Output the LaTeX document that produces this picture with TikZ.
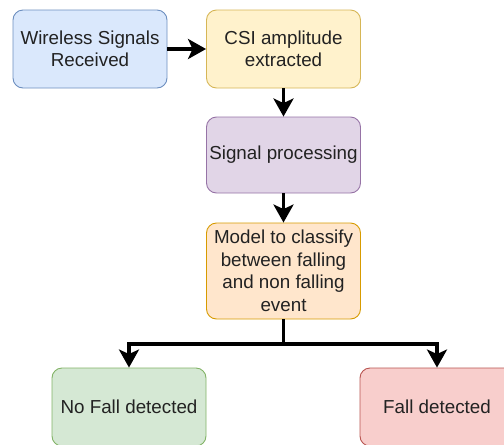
\documentclass[tikz,border=0pt]{standalone}
\usepackage{fontspec}
\setmainfont{Liberation Sans}
\usetikzlibrary{arrows.meta}
\definecolor{bluefill}{HTML}{DAE8FC}\definecolor{bluedraw}{HTML}{6C8EBF}
\definecolor{yelfill}{HTML}{FFF2CC}\definecolor{yeldraw}{HTML}{D6B656}
\definecolor{purfill}{HTML}{E1D5E7}\definecolor{purdraw}{HTML}{9673A6}
\definecolor{orafill}{HTML}{FFE6CC}\definecolor{oradraw}{HTML}{D79B00}
\definecolor{grefill}{HTML}{D5E8D4}\definecolor{gredraw}{HTML}{82B366}
\definecolor{redfill}{HTML}{F8CECC}\definecolor{reddraw}{HTML}{B85450}
\definecolor{txt}{HTML}{222222}
\begin{document}
\begin{tikzpicture}[x=1pt,y=-1pt,
  box/.style={rounded corners=10pt, line width=0.9pt, minimum width=154pt,
    align=center, inner sep=0pt, text=txt,
    font=\fontsize{18.8}{22.5}\selectfont},
  flow/.style={line width=3.5pt, -{Stealth[length=18pt,width=20pt,inset=4.5pt]}}]
\useasboundingbox (0,0) rectangle (504,445);
\node[box, fill=bluefill, draw=bluedraw, minimum height=78pt] (wire) at (90,49) {Wireless Signals\\Received};
\node[box, fill=yelfill, draw=yeldraw, minimum height=78pt] (csi) at (283.5,49) {CSI amplitude\\extracted};
\node[box, fill=purfill, draw=purdraw, minimum height=76pt] (proc) at (283.5,155) {Signal processing};
\node[box, fill=orafill, draw=oradraw, minimum height=96pt] (model) at (283.5,271) {Model to classify\\between falling\\and non falling\\event};
\node[box, fill=grefill, draw=gredraw, minimum height=78pt] (nofall) at (129,407) {No Fall detected};
\node[box, fill=redfill, draw=reddraw, minimum height=78pt] (fall) at (437,407) {Fall detected};
\coordinate (split) at (283.5,344);
\draw[flow] (wire) -- (csi);
\draw[flow] (csi) -- (proc);
\draw[flow] (proc) -- (model);
\draw[flow] (model.south) -- (split) -| (nofall.north);
\draw[flow] (split) -| (fall.north);
\end{tikzpicture}
\end{document}
